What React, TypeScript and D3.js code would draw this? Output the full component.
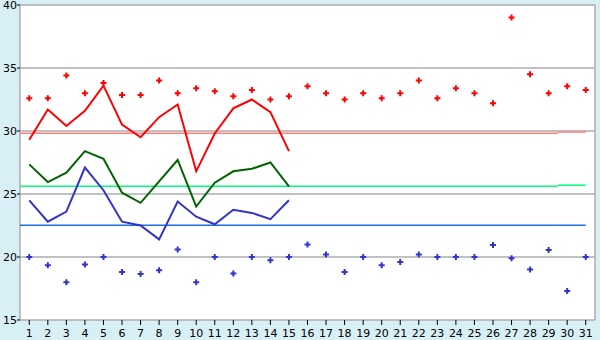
import React from "react";
import * as d3 from "d3";

const days: number[] = d3.range(1, 32);
const yTicks: number[] = [15, 20, 25, 30, 35, 40];

const maxLine: number[] = [29.3, 31.7, 30.4, 31.6, 33.6, 30.5, 29.5, 31.1, 32.1, 26.8, 29.8, 31.8, 32.5, 31.5, 28.4];
const meanLine: number[] = [27.35, 25.95, 26.7, 28.4, 27.8, 25.1, 24.3, 26.0, 27.7, 24.0, 25.9, 26.8, 27.0, 27.5, 25.6];
const minLine: number[] = [24.5, 22.8, 23.6, 27.1, 25.3, 22.8, 22.5, 21.4, 24.4, 23.2, 22.6, 23.75, 23.5, 23.0, 24.5];

const maxPoints: number[] = [
  32.6, 32.6, 34.4, 33.0, 33.8, 32.85, 32.85, 34.0, 33.0, 33.4,
  33.15, 32.75, 33.25, 32.5, 32.75, 33.55, 33.0, 32.5, 33.0, 32.6,
  33.0, 34.0, 32.6, 33.4, 33.0, 32.2, 39.0, 34.5, 33.0, 33.55, 33.25,
];
const minPoints: number[] = [
  20.0, 19.35, 18.0, 19.4, 20.0, 18.8, 18.65, 18.95, 20.6, 18.0,
  20.0, 18.7, 20.0, 19.75, 20.0, 21.0, 20.2, 18.8, 20.0, 19.35,
  19.6, 20.2, 20.0, 20.0, 20.0, 20.95, 19.9, 19.0, 20.55, 17.3, 20.0,
];

// reference levels, stepped at the break days
const refBreaks: number[] = [0.5, 29.5, 31];
const refMax: number[] = [29.82, 29.92];
const refMean: number[] = [25.62, 25.7];
const refMin: number[] = [22.52, 22.52];

const W = 600;
const H = 340;
const m = { left: 20, right: 5, top: 5, bottom: 20 };

export default function App() {
  const x = d3.scaleLinear().domain([0.5, 31.5]).range([m.left, W - m.right]);
  const y = d3.scaleLinear().domain([15, 40]).range([H - m.bottom, m.top]);
  const line = d3
    .line<number>()
    .x((_, i) => x(i + 1))
    .y((d) => y(d));
  const marker = d3.symbol().type(d3.symbolCross).size(20)() as string;
  const font = "'DejaVu Sans', Verdana, sans-serif";

  const refSegs = (vals: number[], color: string, key: string) =>
    vals.map((v, i) => (
      <line
        key={key + i}
        x1={x(refBreaks[i])}
        x2={x(refBreaks[i + 1])}
        y1={y(v)}
        y2={y(v)}
        stroke={color}
        strokeWidth={1.5}
      />
    ));

  return (
    <svg
      width={W}
      height={H}
      style={{ position: "fixed", left: 0, top: 0, display: "block" }}
    >
      <rect x={0} y={0} width={W} height={H} fill="#d9eff6" />
      <rect
        x={m.left}
        y={m.top}
        width={W - m.left - m.right}
        height={H - m.top - m.bottom}
        fill="#ffffff"
      />
      {yTicks.map((t) => (
        <line key={"g" + t} x1={m.left} x2={W - m.right} y1={y(t)} y2={y(t)} stroke="#acacac" strokeWidth={1.3} />
      ))}
      <line x1={W - m.right} x2={W - m.right} y1={m.top} y2={H - m.bottom} stroke="#acacac" strokeWidth={1.5} />
      <line x1={m.left} x2={m.left} y1={m.top} y2={H - m.bottom} stroke="#acacac" strokeWidth={1.5} />

      {refSegs(refMax, "#ff8080", "rx")}
      {refSegs(refMean, "#00ff80", "rm")}
      {refSegs(refMin, "#1a6ee8", "rn")}

      <path d={line(maxLine) || ""} fill="none" stroke="#ff0000" strokeWidth={2} />
      <path d={line(meanLine) || ""} fill="none" stroke="#006400" strokeWidth={2} />
      <path d={line(minLine) || ""} fill="none" stroke="#3333cc" strokeWidth={2} />

      {maxPoints.map((v, i) => (
        <path key={"mp" + i} d={marker} transform={`translate(${x(i + 1)},${y(v)})`} fill="#ff0000" />
      ))}
      {minPoints.map((v, i) => (
        <path key={"np" + i} d={marker} transform={`translate(${x(i + 1)},${y(v)})`} fill="#3333cc" />
      ))}

      {yTicks.map((t) => (
        <g key={"yt" + t}>
          <line x1={m.left - 3} x2={m.left} y1={y(t)} y2={y(t)} stroke="#000" />
          <text x={m.left - 3} y={y(t)} dy="0.35em" textAnchor="end" fontFamily={font} fontSize={11} fill="#000">
            {t}
          </text>
        </g>
      ))}
      {days.map((d) => (
        <g key={"xt" + d}>
          <line x1={x(d)} x2={x(d)} y1={H - m.bottom} y2={H - m.bottom + 5} stroke="#000" />
          <text x={x(d)} y={H - m.bottom + 17} textAnchor="middle" fontFamily={font} fontSize={11} fill="#000">
            {d}
          </text>
        </g>
      ))}
    </svg>
  );
}
